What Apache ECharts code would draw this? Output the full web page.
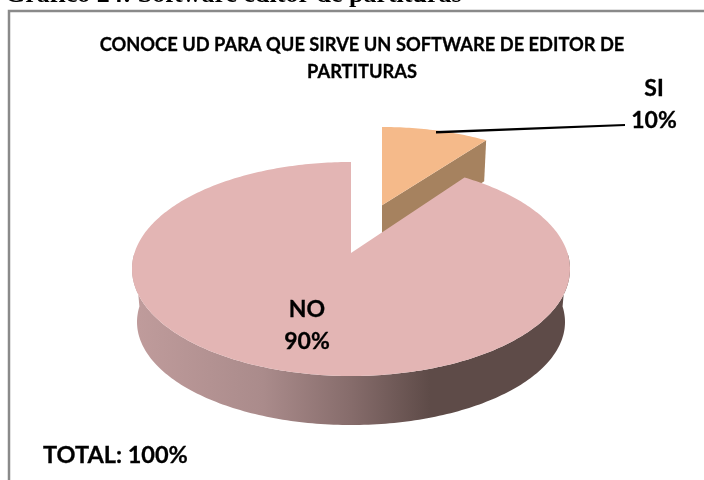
<!DOCTYPE html>
<html><head><meta charset="utf-8">
<style>html,body{margin:0;padding:0;background:#fff}#c{width:704px;height:480px}</style>
<script src="https://cdn.jsdelivr.net/npm/echarts@6/dist/echarts.min.js"></script>
</head><body><div id="c"></div>
<script>
const categories = ['SI', 'NO'];
const values = [10, 90];
const heading = 'Gráfico 24: Software editor de partituras';
const titleLines = 'CONOCE UD PARA QUE SIRVE UN SOFTWARE DE EDITOR DE\nPARTITURAS';
const totalLabel = 'TOTAL: 100%';

const K = 0.15;
const layouts = [
  { top: { cx: 382, cy: 219, rx: 201, ry: 92 }, depth: 44, top_c: '#f5ba8a', wall: '#a6825f',
    label: { x: 654, y: 104.5 } },
  { top: { cx: 351, cy: 269, rx: 219, ry: 107 }, bot: { cx: 351, cy: 322, rx: 214, ry: 103 }, top_c: '#e3b5b4',
    label: { x: 307, y: 325.5 } }
];
const total = values.reduce((a, b) => a + b, 0);
const starts = values.map((v, i) => values.slice(0, i).reduce((a, b) => a + b, 0));

function project(e, deg) {
  const t = deg * Math.PI / 180, u = Math.sin(t), v = Math.cos(t), w = 1 + K * v;
  return [e.cx + e.rx * Math.sqrt(1 - K * K) * u / w, e.cy - e.ry * (v + K) / w];
}
function apex(e) { return [e.cx, e.cy - e.ry * K]; }
function arc(e, a, b) {
  const pts = [], n = Math.max(8, Math.ceil(Math.abs(b - a)));
  for (let i = 0; i <= n; i++) pts.push(project(e, a + (b - a) * i / n));
  return pts;
}

const bold = { fontFamily: 'Lato', fontWeight: 'bold', color: '#000', textBorderColor: '#000', textBorderWidth: 0.3 };
const chart = echarts.init(document.getElementById('c'), null, { renderer: 'canvas' });
chart.setOption({
  backgroundColor: '#fff',
  animation: false,
  title: [
    { text: heading, left: 0, top: -23, textStyle: { fontFamily: 'Liberation Serif', fontWeight: 'bold', fontSize: 26, color: '#000' } },
    { text: titleLines, left: 357, top: 27, textAlign: 'center', textStyle: Object.assign({ fontSize: 18.3, lineHeight: 27, align: 'center' }, bold) },
    { text: totalLabel, left: 38, top: 438, textStyle: Object.assign({ fontSize: 23.5 }, bold) }
  ],
  graphic: [
    { type: 'polyline', z: 0, shape: { points: [[9, 490], [9, 11], [710, 11]] }, style: { stroke: '#8a8a8a', lineWidth: 2.5, fill: null } },
    { type: 'polygon', z: 10, shape: { points: [[436, 131], [625, 124], [625, 126], [436, 133.5]] }, style: { fill: '#000' } }
  ],
  xAxis: { show: false, min: 0, max: 1 },
  yAxis: { show: false, min: 0, max: 1 },
  grid: { left: 0, right: 0, top: 0, bottom: 0 },
  series: [{
    type: 'custom',
    coordinateSystem: 'none',
    data: categories.map((c, i) => ({ name: c, value: values[i] })),
    renderItem(params, api) {
      const i = params.dataIndex, L = layouts[i];
      const a0 = starts[i] / total * 360, a1 = (starts[i] + values[i]) / total * 360;
      const c = apex(L.top), children = [];
      const rim = arc(L.top, a0, a1);
      if (i === 0) {
        const corner = rim[rim.length - 1];
        children.push({ type: 'polygon', shape: { points: [c, corner, [corner[0] - 2, corner[1] + 41], [c[0], c[1] + L.depth]] }, style: { fill: L.wall } });
      } else {
        const front = arc(L.top, 90, 270), back = arc(L.bot, 270, 90);
        children.push({
          type: 'polygon', shape: { points: front.concat(back) },
          style: { fill: new echarts.graphic.LinearGradient(0, 0, 1, 0, [
            { offset: 0, color: '#c09c9c' }, { offset: 0.3, color: '#aa8b8b' },
            { offset: 0.5, color: '#866c6b' }, { offset: 0.68, color: '#5e4b48' }, { offset: 1, color: '#5e4b48' }
          ]) }
        });
      }
      children.push({ type: 'polygon', shape: { points: [c].concat(rim) }, style: { fill: L.top_c } });
      children.push({
        type: 'text', z2: 5,
        style: { x: L.label.x, y: L.label.y, text: categories[i] + '\n' + values[i] + '%', align: 'center', verticalAlign: 'middle',
          fontFamily: 'Lato', fontWeight: 'bold', fontSize: 23, lineHeight: 32, fill: '#000', stroke: '#000', lineWidth: 0.3 }
      });
      return { type: 'group', children };
    }
  }]
});
</script></body></html>
